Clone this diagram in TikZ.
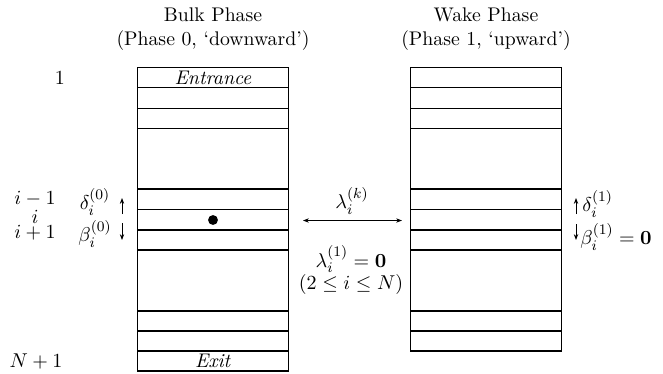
\documentclass[tikz,border=0pt]{standalone}
\usetikzlibrary{arrows.meta}
\begin{document}
\begin{tikzpicture}[x=0.547pt,y=-0.547pt,
  boxline/.style={line width=0.8pt},
  smallarrow/.style={line width=0.45pt,-{Stealth[length=3.2pt,width=2.4pt]}},
  dblarrow/.style={line width=0.45pt,{Stealth[length=3.2pt,width=2.4pt]}-{Stealth[length=3.2pt,width=2.4pt]}},
  lbl/.style={inner sep=0pt,font=\fontsize{10.8}{13}\selectfont}]
\useasboundingbox (0,0) rectangle (663,373);
% left box
\foreach \y in {67.7,87.7,108.3,128.3,189,209.3,230,250,311,331,351,371}
  \draw[boxline] (137.3,\y) -- (288.7,\y);
\draw[boxline] (137.3,67.3) -- (137.3,371.4);
\draw[boxline] (288.7,67.3) -- (288.7,371.4);
% right box
\foreach \y in {67.7,87.7,108.3,128.3,189,209.3,230,250,311,331,351}
  \draw[boxline] (410.3,\y) -- (561.7,\y);
\draw[boxline] (410.3,67.3) -- (410.3,351.4);
\draw[boxline] (561.7,67.3) -- (561.7,351.4);
% titles
\node[lbl,align=center] (bulk) at (213,29) {Bulk Phase\\(Phase 0, `downward')};
\node[lbl,align=center] (wake) at (486,29) {Wake Phase\\(Phase 1, `upward')};
% box texts
\node[lbl] (entr) at (213,78) {\textit{Entrance}};
\node[lbl] (exit) at (213,361) {\textit{Exit}};
\fill (213,220) circle (2.7pt) coordinate (dot);
% left index labels
\node[lbl] (one) at (60,78) {$1$};
\node[lbl] (im) at (35,199) {$i-1$};
\node[lbl] (ii) at (35,217) {$i$};
\node[lbl] (ip) at (35,233) {$i+1$};
\node[lbl] (np) at (36,361) {$N+1$};
% left rates
\node[lbl] (d0) at (95,202) {$\delta_i^{(0)}$};
\node[lbl] (b0) at (95,234) {$\beta_i^{(0)}$};
\coordinate (u0a) at (122,214);
\coordinate (u0b) at (122,198);
\coordinate (d0a) at (122,223);
\coordinate (d0b) at (122,240);
\draw[smallarrow] (u0a) -- (u0b);
\draw[smallarrow] (d0a) -- (d0b);
% middle
\node[lbl] (lk) at (352,201) {$\lambda_i^{(k)}$};
\coordinate (la) at (303,220.5);
\coordinate (lb) at (402,220.5);
\draw[dblarrow] (la) -- (lb);
\node[lbl,align=center] (l1) at (351,270) {$\lambda_i^{(1)}=\mathbf{0}$\\[-1pt]$(2\le i\le N)$};
% right rates
\coordinate (u1a) at (576,214);
\coordinate (u1b) at (576,198);
\coordinate (d1a) at (576,224);
\coordinate (d1b) at (576,240);
\draw[smallarrow] (u1a) -- (u1b);
\draw[smallarrow] (d1a) -- (d1b);
\node[lbl,anchor=west] (d1) at (582,204) {$\delta_i^{(1)}$};
\node[lbl,anchor=west] (b1) at (580,237) {$\beta_i^{(1)}=\mathbf{0}$};
\end{tikzpicture}
\end{document}
